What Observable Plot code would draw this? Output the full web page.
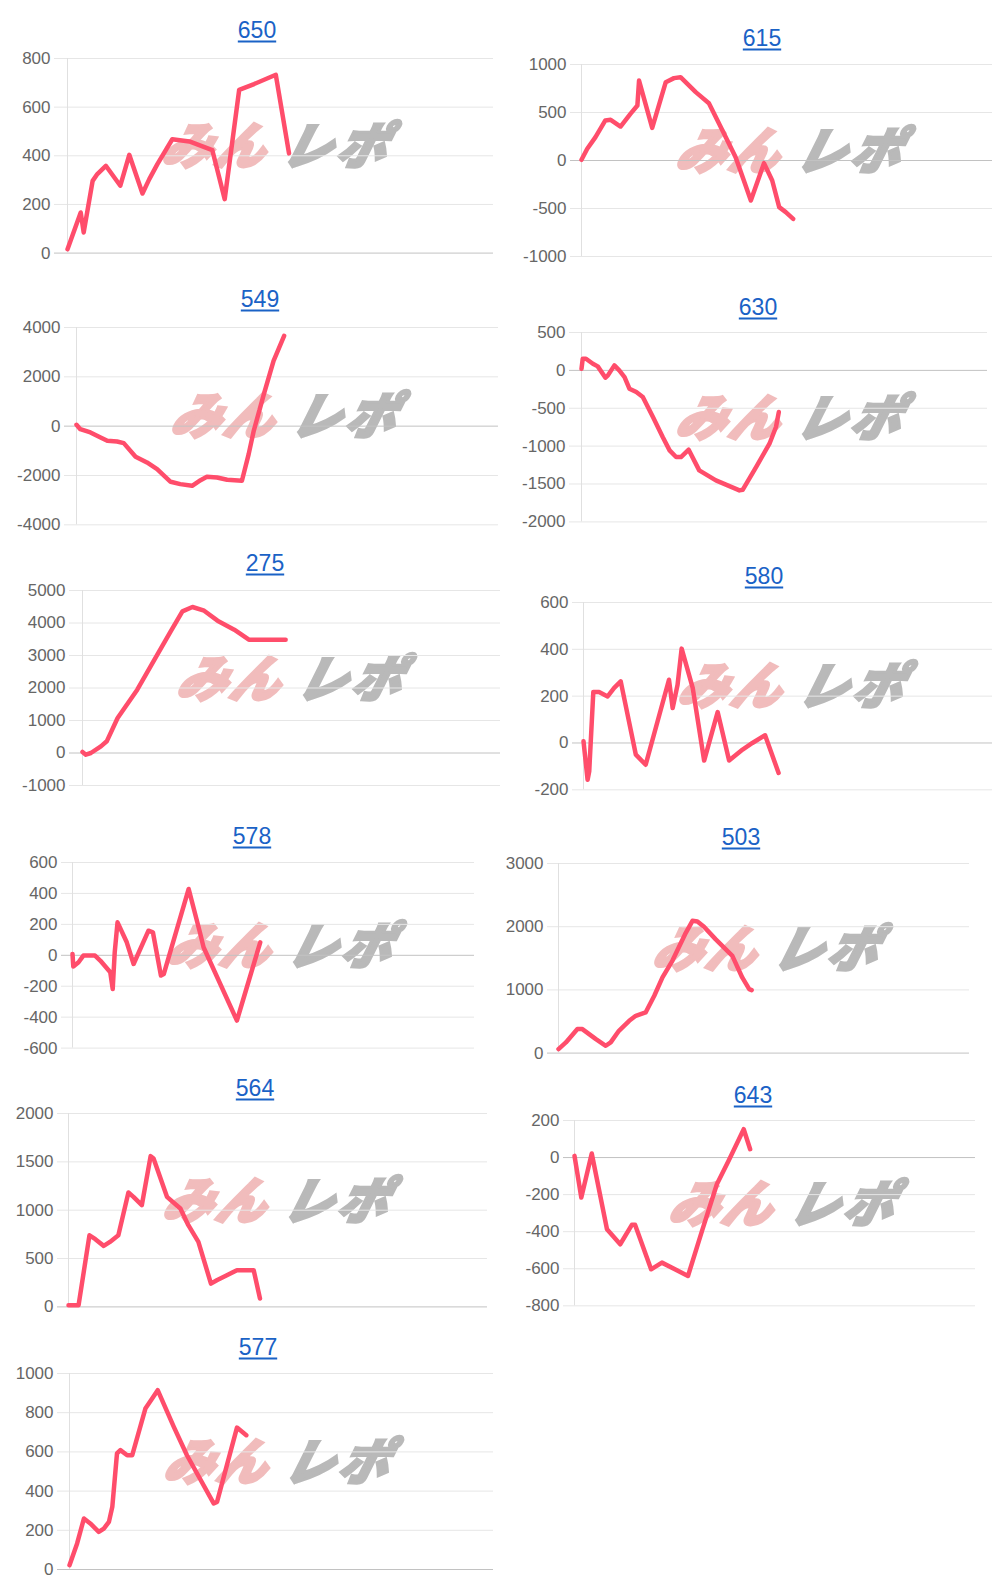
<!DOCTYPE html>
<html><head><meta charset="utf-8">
<script src="https://cdn.jsdelivr.net/npm/d3@7"></script>
<script src="https://cdn.jsdelivr.net/npm/@observablehq/plot@0.6"></script>
<style>
html,body{margin:0;padding:0;background:#fff;}
#page{position:relative;width:998px;height:1591px;overflow:hidden;font-family:"Liberation Sans",Arial,sans-serif;background:#fff;}
.title{position:absolute;transform:translate(-50%,-50%);font-size:23px;line-height:1;color:#1a62c6;text-decoration:underline;text-decoration-thickness:1.5px;text-underline-offset:3px;white-space:nowrap;}
.wm{position:absolute;font-family:"Noto Sans CJK JP";font-weight:900;font-style:italic;font-size:50px;line-height:1;white-space:nowrap;transform:translateY(-50%) skewX(-14deg);}
.wm .a{color:#f1bcbc;-webkit-text-stroke:3px #f1bcbc;letter-spacing:3px;}
.wm .b{color:#b9b9b9;-webkit-text-stroke:3px #b9b9b9;margin-left:14px;letter-spacing:4px;}
.chart{position:absolute;}
</style></head><body><div id="page"></div>
<script>
// ---- data ----
const titles = ["650","615","549","630","275","580","578","503","564","643","577"];

const x650 = [0,3.1,3.8,5.9,7.0,9.0,12.4,14.5,17.6,19.2,21.1,24.6,28.6,34.0,36.9,40.3,43.8,48.9,52.0];
const y650 = [16,167,85,297,325,359,277,404,245,304,366,468,459,423,222,671,695,733,410];
const ticks650 = [0,200,400,600,800];

const x615 = [0,1.4,3.4,5.8,7.1,9.5,11.9,13.6,14.0,17.2,20.5,22.5,24.1,27.8,31.0,34.3,37.5,39.5,41.2,44.4,46.4,48.1,49.7,51.5];
const y615 = [7,122,243,417,424,354,486,573,833,340,816,858,868,712,597,313,35,-208,-417,-28,-208,-486,-538,-608];
const ticks615 = [-1000,-500,0,500,1000];

const x549 = [0,0.9,3.3,5.7,7.3,9.6,11.2,14.0,16.7,19.1,22.3,24.6,27.4,29.4,30.9,33.3,35.7,39.2,40.8,42.0,44.4,46.7,49.2];
const y549 = [54,-122,-257,-459,-595,-622,-689,-1243,-1473,-1743,-2257,-2351,-2419,-2189,-2054,-2081,-2176,-2216,-1135,-189,1297,2649,3662];
const ticks549 = [-4000,-2000,0,2000,4000];

const x630 = [0,0.3,1.1,2.8,4.0,5.9,6.5,8.1,9.3,10.6,11.8,13.5,15.1,17.6,20.0,21.7,23.3,24.5,26.4,29.0,33.1,38.9,39.7,43.0,46.3,47.9,48.6];
const y630 = [22,154,154,88,53,-97,-66,66,0,-88,-242,-286,-352,-616,-880,-1056,-1144,-1144,-1047,-1320,-1452,-1584,-1576,-1276,-968,-748,-550];
const ticks630 = [-2000,-1500,-1000,-500,0,500];

const x275 = [0,0.8,2.0,4.4,5.8,8.4,13.1,17.9,21.1,23.9,26.3,29.1,32.3,36.3,39.8,48.6];
const y275 = [31,-51,0,205,359,1077,1949,3026,3744,4359,4492,4379,4072,3795,3487,3487];
const ticks275 = [-1000,0,1000,2000,3000,4000,5000];

const x580 = [0,1.0,1.4,2.4,3.8,5.9,7.5,9.1,12.8,15.2,20.9,21.8,23.0,24.0,26.7,29.5,32.8,35.6,38.9,41.3,44.4,47.7];
const y580 = [7,-157,-121,218,218,199,235,263,-50,-93,270,149,249,403,235,-75,132,-75,-28,0,33,-128];
const ticks580 = [-200,0,200,400,600];

const x578 = [0,0.2,1.5,2.7,5.6,6.9,9.4,10.0,10.5,11.2,13.5,15.2,18.9,20.0,22.0,22.7,28.9,31.8,32.6,40.9,43.0,46.7];
const y578 = [9,-73,-45,-2,-2,-34,-110,-218,19,213,84,-56,159,149,-131,-121,429,138,52,-422,-239,84];
const ticks578 = [-600,-400,-200,0,200,400,600];

const x503 = [0,1.8,4.6,5.8,9.1,11.5,12.7,14.7,17.2,18.8,21.2,23.3,25.3,27.7,30.8,32.6,33.8,35.4,38.2,42.3,44.7,46.4,47.0];
const y503 = [63,169,380,380,221,116,169,353,511,590,643,907,1197,1460,1882,2093,2082,1998,1803,1539,1197,1012,996];
const ticks503 = [0,1000,2000,3000];

const x564 = [0,2.4,5.0,6.4,8.4,9.9,11.9,14.3,15.5,17.5,19.6,20.3,23.5,26.7,28.6,31.0,34.0,35.4,37.8,40.2,44.2,45.7];
const y564 = [17,17,741,700,631,672,741,1183,1138,1052,1559,1534,1138,1017,845,672,241,276,328,379,379,86];
const ticks564 = [0,500,1000,1500,2000];

const x643 = [0,1.7,4.3,8.1,11.4,14.3,15.1,19.1,21.8,28.3,31.8,35.5,38.4,42.2,43.8];
const y643 = [9,-216,22,-387,-468,-363,-363,-603,-567,-639,-396,-144,-18,153,45];
const ticks643 = [-800,-600,-400,-200,0,200];

const x577 = [0,1.8,3.4,4.9,6.9,8.1,9.3,10.1,11.2,12.0,13.6,14.8,17.9,19.5,20.8,24.6,27.7,34.0,34.8,39.5,41.7];
const y577 = [22,133,260,235,192,209,243,320,592,609,583,583,821,872,915,728,583,337,345,724,685];
const ticks577 = [0,200,400,600,800,1000];

const xsList = [x650,x615,x549,x630,x275,x580,x578,x503,x564,x643,x577];
const ysList = [y650,y615,y549,y630,y275,y580,y578,y503,y564,y643,y577];
const ticksList = [ticks650,ticks615,ticks549,ticks630,ticks275,ticks580,ticks578,ticks503,ticks564,ticks643,ticks577];

// ---- layout (screen geometry of each panel) ----
const layout = [
  {axisX:67,  labelRight:50,  rightEnd:493, yTop:57.7,   yBottom:252.3,  titleX:257, titleY:30},
  {axisX:581, labelRight:566, rightEnd:992, yTop:64,     yBottom:256,    titleX:762, titleY:38},
  {axisX:76,  labelRight:60,  rightEnd:498, yTop:326.7,  yBottom:524,    titleX:260, titleY:299},
  {axisX:581, labelRight:565, rightEnd:987, yTop:332.3,  yBottom:521.7,  titleX:758, titleY:307},
  {axisX:82,  labelRight:65,  rightEnd:500, yTop:590,    yBottom:785,    titleX:265, titleY:563},
  {axisX:583, labelRight:568, rightEnd:992, yTop:601.7,  yBottom:789,    titleX:764, titleY:576},
  {axisX:72,  labelRight:57,  rightEnd:474, yTop:861.7,  yBottom:1047.3, titleX:252, titleY:836},
  {axisX:558, labelRight:543, rightEnd:969, yTop:862.7,  yBottom:1052.3, titleX:741, titleY:837},
  {axisX:68,  labelRight:53,  rightEnd:487, yTop:1113.3, yBottom:1306.7, titleX:255, titleY:1088},
  {axisX:574, labelRight:559, rightEnd:975, yTop:1120,   yBottom:1305.3, titleX:753, titleY:1095},
  {axisX:69,  labelRight:53,  rightEnd:493, yTop:1373.3, yBottom:1569.3, titleX:258, titleY:1347}
];

const page = document.getElementById("page");
const ML = 75, MT = 12, MB = 12;

titles.forEach((t, i) => {
  const L = layout[i];
  const xs = xsList[i], ys = ysList[i], ticks = ticksList[i];
  const data = xs.map((x, j) => ({x, y: ys[j]}));
  const [lo, hi] = d3.extent(ticks);
  const pad = L.axisX - L.labelRight;
  const left = L.axisX - ML;

  // watermark (below the chart)
  const wm = document.createElement("div");
  wm.className = "wm";
  wm.style.left = (L.axisX + 98) + "px";
  wm.style.top = ((L.yTop + L.yBottom) / 2 - 13) + "px";
  wm.innerHTML = '<span class="a">みん</span><span class="b">レポ</span>';
  page.appendChild(wm);

  const svg = Plot.plot({
    width: L.rightEnd - left,
    height: (L.yBottom - L.yTop) + MT + MB,
    marginLeft: ML, marginRight: 0, marginTop: MT, marginBottom: MB,
    x: {domain: [0, 100], axis: null},
    y: {domain: [lo, hi], axis: null},
    style: {background: "transparent", fontFamily: "'Liberation Sans', Arial, sans-serif", fontSize: "17px", color: "#666", overflow: "visible"},
    marks: [
      Plot.ruleY(ticks.filter(d => d !== 0), {stroke: "#e6e6e6", insetLeft: -(pad - 4)}),
      Plot.ruleY(ticks.filter(d => d === 0), {stroke: "#c2c2c2", insetLeft: -(pad - 4)}),
      Plot.ruleX([0], {y1: lo, y2: hi, stroke: "#e0e0e0"}),
      Plot.axisY({ticks, label: null, tickSize: 0, tickPadding: pad, tickFormat: d => String(d), fill: "#666"}),
      Plot.line(data, {x: "x", y: "y", stroke: "#ff4d6b", strokeWidth: 4.5, strokeLinejoin: "round", strokeLinecap: "round"})
    ]
  });
  const holder = document.createElement("div");
  holder.className = "chart";
  holder.style.left = left + "px";
  holder.style.top = (L.yTop - MT) + "px";
  holder.appendChild(svg);
  page.appendChild(holder);

  const title = document.createElement("div");
  title.className = "title";
  title.style.left = L.titleX + "px";
  title.style.top = L.titleY + "px";
  title.textContent = t;
  page.appendChild(title);
});
</script>
</body></html>
